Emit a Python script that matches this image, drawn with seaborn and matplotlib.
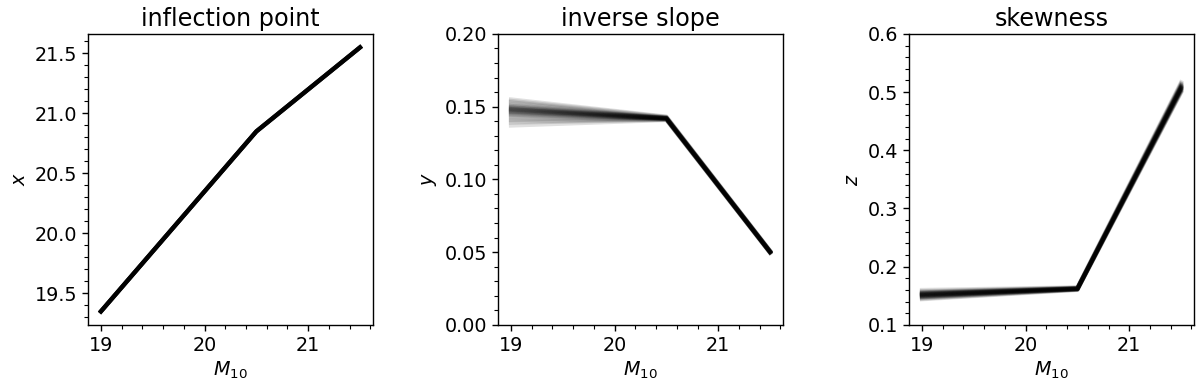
import numpy as np
import pandas as pd
import matplotlib
matplotlib.use("Agg")
import matplotlib.pyplot as plt
import seaborn as sns
from matplotlib.ticker import AutoMinorLocator

# knot positions (M10)
knots = [19.0, 20.5, 21.5]

# panel titles and labels
titles = ["inflection point", "inverse slope", "skewness"]
ylabels = ["$x$", "$y$", "$z$"]

# posterior sample curves, values at each knot
infl_19 = [19.348, 19.350, 19.350, 19.352]
infl_205 = [20.848, 20.850, 20.850, 20.852]
infl_215 = [21.548, 21.550, 21.550, 21.552]

slope_19 = [0.137, 0.139, 0.140, 0.141, 0.142, 0.143, 0.144, 0.1445, 0.145, 0.1455,
            0.146, 0.1463, 0.1466, 0.147, 0.1473, 0.1476, 0.148, 0.148, 0.1483, 0.1486,
            0.149, 0.1493, 0.1496, 0.150, 0.1505, 0.151, 0.152, 0.153, 0.154, 0.155]
slope_205 = [0.1408, 0.1410, 0.1411, 0.1412, 0.1413, 0.1414, 0.1415, 0.1416, 0.1416, 0.1417,
             0.1417, 0.1418, 0.1418, 0.1419, 0.1419, 0.1420, 0.1420, 0.1420, 0.1421, 0.1421,
             0.1422, 0.1422, 0.1423, 0.1423, 0.1424, 0.1425, 0.1426, 0.1428, 0.1430, 0.1432]
slope_215 = [0.0494, 0.0495, 0.0496, 0.0497, 0.0498, 0.0498, 0.0499, 0.0499, 0.0500, 0.0500,
             0.0500, 0.0501, 0.0501, 0.0501, 0.0502, 0.0502, 0.0502, 0.0503, 0.0503, 0.0503,
             0.0504, 0.0504, 0.0505, 0.0505, 0.0506, 0.0506, 0.0507, 0.0508, 0.0509, 0.0511]

skew_19 = [0.144, 0.145, 0.146, 0.147, 0.1475, 0.148, 0.1485, 0.149, 0.1495, 0.150,
           0.1503, 0.1506, 0.151, 0.1513, 0.1516, 0.152, 0.152, 0.1523, 0.1526, 0.153,
           0.1533, 0.1536, 0.154, 0.1545, 0.155, 0.1555, 0.156, 0.157, 0.158, 0.160]
skew_205 = [0.1600, 0.1603, 0.1606, 0.1608, 0.1610, 0.1611, 0.1612, 0.1613, 0.1614, 0.1615,
            0.1616, 0.1617, 0.1618, 0.1619, 0.1620, 0.1620, 0.1621, 0.1622, 0.1623, 0.1624,
            0.1625, 0.1626, 0.1627, 0.1628, 0.1630, 0.1632, 0.1634, 0.1637, 0.1640, 0.1645]
skew_215 = [0.499, 0.500, 0.501, 0.502, 0.503, 0.503, 0.504, 0.504, 0.505, 0.505,
            0.506, 0.506, 0.506, 0.507, 0.507, 0.507, 0.508, 0.508, 0.508, 0.509,
            0.509, 0.510, 0.510, 0.511, 0.511, 0.512, 0.513, 0.514, 0.515, 0.517]

panels = [(infl_19, infl_205, infl_215),
          (slope_19, slope_205, slope_215),
          (skew_19, skew_205, skew_215)]
ylims = [None, (0.0, 0.2), (0.1, 0.6)]

plt.rcParams.update({
    "font.family": ["DejaVu Sans"],
    "font.size": 13.8,
    "axes.linewidth": 1.0,
    "xtick.major.size": 4.2, "ytick.major.size": 4.2,
    "xtick.minor.size": 2.6, "ytick.minor.size": 2.6,
    "xtick.major.width": 1.0, "ytick.major.width": 1.0,
    "xtick.minor.width": 0.8, "ytick.minor.width": 0.8,
})

fig = plt.figure(figsize=(12, 3.9), dpi=100)
lefts = [0.0733, 0.415, 0.7575]
for i, (v19, v205, v215) in enumerate(panels):
    ax = fig.add_axes([lefts[i], 0.167, 0.2375, 0.746])
    rows = []
    for s in range(len(v19)):
        for k, v in zip(knots, (v19[s], v205[s], v215[s])):
            rows.append({"sample": s, "M10": k, "val": v})
    df = pd.DataFrame(rows)
    alpha = 0.7 if i == 0 else 0.12
    sns.lineplot(data=df, x="M10", y="val", units="sample", estimator=None,
                 color="black", alpha=alpha, lw=3, ax=ax, legend=False)
    ax.set_title(titles[i], fontsize=17.2)
    ax.set_xlabel("$M_{10}$")
    ax.set_ylabel(ylabels[i])
    ax.set_xticks([19, 20, 21])
    ax.set_xlim(18.875, 21.625)
    if ylims[i] is not None:
        ax.set_ylim(*ylims[i])
    ax.xaxis.set_minor_locator(AutoMinorLocator())
    ax.yaxis.set_minor_locator(AutoMinorLocator())

fig.savefig("out.png", dpi=100)
